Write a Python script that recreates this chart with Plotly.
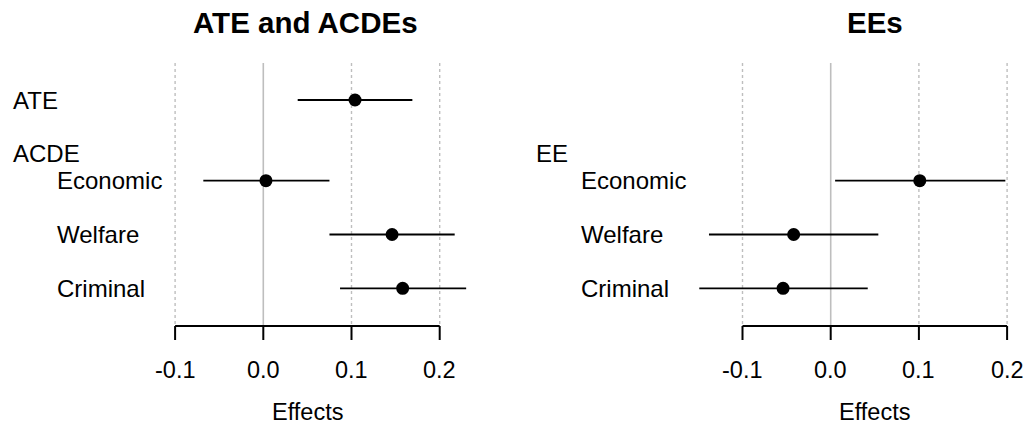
import plotly.graph_objects as go

# ---- data ----
ate_labels = ["ATE"]
ate_est = [0.104]
ate_lo = [0.039]
ate_hi = [0.169]

acde_labels = ["Economic", "Welfare", "Criminal"]
acde_est = [0.003, 0.146, 0.158]
acde_lo = [-0.068, 0.075, 0.087]
acde_hi = [0.075, 0.217, 0.230]

ee_labels = ["Economic", "Welfare", "Criminal"]
ee_est = [0.101, -0.042, -0.054]
ee_lo = [0.005, -0.138, -0.149]
ee_hi = [0.198, 0.054, 0.042]

tick_vals = [-0.1, 0.0, 0.1, 0.2]
tick_text = ["-0.1", "0.0", "0.1", "0.2"]
panel_titles = ["ATE and ACDEs", "EEs"]
group_headers = ["ACDE", "EE"]
x_title = "Effects"

W, H = 1026, 427
FONT = "Liberation Sans, Arial, Helvetica, sans-serif"

# row positions (row units): ATE=0, header row, sub rows 1.5, 2.5, 3.5
row_px = 53.8
y0_px = 100.0
yr = [(H - y0_px) / row_px, -y0_px / row_px]

def yrow(page_px):
    return (page_px - y0_px) / row_px

# x scaling: 0.1 units = 88.2 px
sc = 882.0
zero_left, zero_right = 263.3, 830.7
split = 513
x1_range = [(0 - zero_left) / sc, (split - zero_left) / sc]
x2_range = [(split - zero_right) / sc, (W - zero_right) / sc]

def px_paper_x(p):
    return p / W
def px_paper_y(p):
    return 1 - p / H

fig = go.Figure()

def add_points(est, lo, hi, rows, xa):
    fig.add_trace(go.Scatter(
        x=est, y=rows, mode="markers", xaxis=xa, yaxis="y",
        marker=dict(color="black", size=13),
        error_x=dict(type="data", symmetric=False,
                     array=[h - e for h, e in zip(hi, est)],
                     arrayminus=[e - l for e, l in zip(est, lo)],
                     color="black", thickness=1.8, width=0),
        showlegend=False, cliponaxis=False, hoverinfo="skip"))

sub_rows = [1.5 + i for i in range(len(acde_labels))]
add_points(ate_est + acde_est, ate_lo + acde_lo, ate_hi + acde_hi, [0] + sub_rows, "x")
add_points(ee_est, ee_lo, ee_hi, [1.5 + i for i in range(len(ee_labels))], "x2")

shapes = []
annotations = []
grid_top, axis_y = yrow(63), yrow(326)
tick_end = yrow(340)
title_x_px = [305, 875]
for k, xr in enumerate(["x", "x2"]):
    for v, t in zip(tick_vals, tick_text):
        shapes.append(dict(type="line", xref=xr, yref="y", x0=v, x1=v, y0=grid_top, y1=axis_y,
                           line=dict(color="#BEBEBE", width=1.6 if v == 0 else 1.4,
                                     dash="solid" if v == 0 else "dot"), layer="below"))
        shapes.append(dict(type="line", xref=xr, yref="y", x0=v, x1=v, y0=axis_y, y1=tick_end,
                           line=dict(color="black", width=2)))
        annotations.append(dict(xref=xr, yref="y", x=v, y=yrow(370),
                                text=t, showarrow=False,
                                font=dict(size=23.5, color="black", family=FONT),
                                xanchor="center", yanchor="middle"))
    shapes.append(dict(type="line", xref=xr, yref="y", x0=tick_vals[0], x1=tick_vals[-1],
                       y0=axis_y, y1=axis_y, line=dict(color="black", width=2)))
    mid = (tick_vals[0] + tick_vals[-1]) / 2
    annotations.append(dict(xref=xr, yref="y", x=mid, y=yrow(412), text=x_title,
                            showarrow=False, font=dict(size=23.5, color="black", family=FONT),
                            xanchor="center", yanchor="middle"))
    annotations.append(dict(xref="paper", yref="paper", x=px_paper_x(title_x_px[k]), y=px_paper_y(22),
                            text="<b>%s</b>" % panel_titles[k],
                            showarrow=False, font=dict(size=29.5, color="black", family=FONT),
                            xanchor="center", yanchor="middle"))

def label(text, xpx, row):
    annotations.append(dict(xref="paper", yref="y", x=px_paper_x(xpx), y=row, text=text,
                            showarrow=False, font=dict(size=24, color="black", family=FONT),
                            xanchor="left", yanchor="middle"))

label(ate_labels[0], 11, 0)
label(group_headers[0], 11, yrow(153))
for i, t in enumerate(acde_labels):
    label(t, 55, 1.5 + i)
label(group_headers[1], 534, yrow(153))
for i, t in enumerate(ee_labels):
    label(t, 579, 1.5 + i)

fig.update_layout(
    width=W, height=H, margin=dict(l=0, r=0, t=0, b=0),
    paper_bgcolor="white", plot_bgcolor="white",
    xaxis=dict(domain=[0, 0.5], range=x1_range, visible=False),
    xaxis2=dict(domain=[0.5, 1], range=x2_range, visible=False),
    yaxis=dict(range=yr, visible=False),
    shapes=shapes, annotations=annotations,
    font=dict(family=FONT), hovermode=False,
)

fig.write_html("out.html", config={"displayModeBar": False},
               post_script="document.body.style.margin='0';document.body.style.overflow='hidden';")
